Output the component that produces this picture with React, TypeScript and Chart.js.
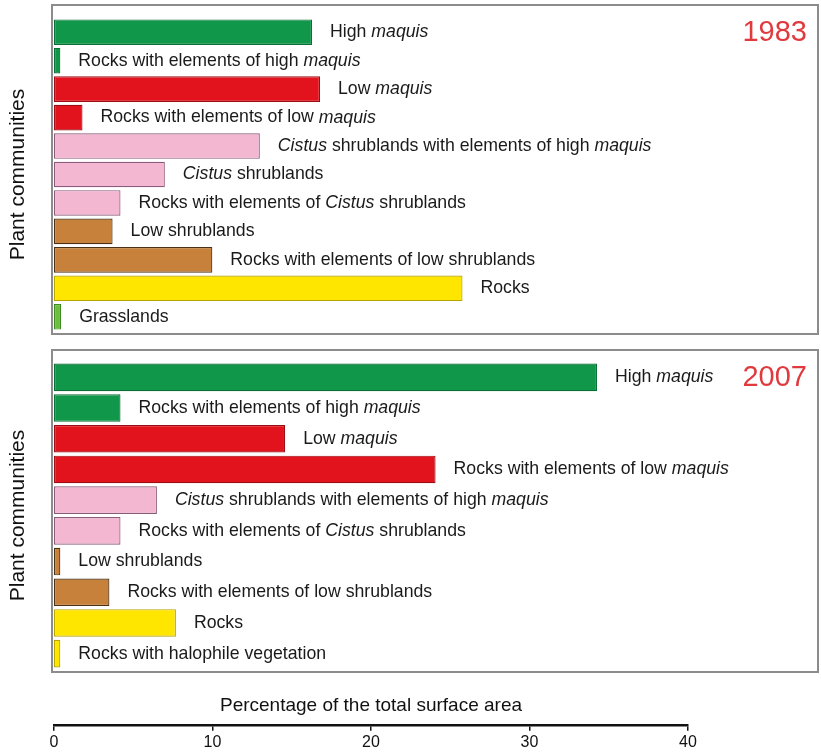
import React, { useEffect, useRef } from "react";
import { Chart, registerables } from "chart.js";
Chart.register(...registerables);

const FONT = '"Liberation Sans", Arial, sans-serif';

const categories1983 = [
  "High maquis",
  "Rocks with elements of high maquis",
  "Low maquis",
  "Rocks with elements of low maquis",
  "Cistus shrublands with elements of high maquis",
  "Cistus shrublands",
  "Rocks with elements of Cistus shrublands",
  "Low shrublands",
  "Rocks with elements of low shrublands",
  "Rocks",
  "Grasslands",
];
const values1983 = [16.3, 0.4, 16.8, 1.8, 13.0, 7.0, 4.2, 3.7, 10.0, 25.8, 0.45];
const groups1983 = ["high", "high", "low", "low", "cistus", "cistus", "cistus", "shrub", "shrub", "rocks", "grass"];

const categories2007 = [
  "High maquis",
  "Rocks with elements of high maquis",
  "Low maquis",
  "Rocks with elements of low maquis",
  "Cistus shrublands with elements of high maquis",
  "Rocks with elements of Cistus shrublands",
  "Low shrublands",
  "Rocks with elements of low shrublands",
  "Rocks",
  "Rocks with halophile vegetation",
];
const values2007 = [34.3, 4.2, 14.6, 24.1, 6.5, 4.2, 0.4, 3.5, 7.7, 0.4];
const groups2007 = ["high", "high", "low", "low", "cistus", "cistus", "shrub", "shrub", "rocks", "rocks"];

const axisTicks = [0, 10, 20, 30, 40];
const italicWords = ["maquis", "Cistus"];

const FILL: Record<string, string> = {
  high: "#11974a",
  low: "#e3131d",
  cistus: "#f3b7d2",
  shrub: "#c8813a",
  rocks: "#ffe600",
  grass: "#6cbd3c",
};
const EDGE: Record<string, string> = {
  high: "#0b6e34",
  low: "#9a0d14",
  cistus: "#8a5a7a",
  shrub: "#4a3015",
  rocks: "#b8a400",
  grass: "#3d8a20",
};

const labelPlugin = {
  id: "barLabels",
  afterDatasetsDraw(chart: any, _args: any, opts: any) {
    const ctx = chart.ctx;
    const meta = chart.getDatasetMeta(0);
    const labels = chart.data.labels as string[];
    ctx.save();
    ctx.fillStyle = "#1a1a1a";
    ctx.textBaseline = "middle";
    ctx.textAlign = "left";
    meta.data.forEach((bar: any, i: number) => {
      let x = bar.x + 18;
      const y = bar.y;
      const words = String(labels[i]).split(" ");
      words.forEach((w, k) => {
        const it = italicWords.includes(w);
        ctx.font = `${it ? "italic " : ""}17.7px ${FONT}`;
        const t = k < words.length - 1 ? w + " " : w;
        ctx.fillText(t, x, y);
        x += ctx.measureText(t).width;
      });
    });
    ctx.fillStyle = "#e03a3e";
    ctx.font = `29px ${FONT}`;
    ctx.textAlign = "right";
    ctx.fillText(opts.year, opts.yearX, opts.yearY);
    ctx.restore();
  },
};

function Panel(props: { labels: string[]; values: number[]; groups: string[]; year: string; yearY: number; style: React.CSSProperties; bar: number }) {
  const ref = useRef<HTMLCanvasElement>(null);
  useEffect(() => {
    const chart = new Chart(ref.current!, {
      type: "bar",
      data: {
        labels: props.labels,
        datasets: [
          {
            data: props.values,
            backgroundColor: props.groups.map((g) => FILL[g]),
            borderColor: props.groups.map((g) => EDGE[g]),
            borderWidth: 1.2,
            borderSkipped: false,
            barPercentage: props.bar,
            categoryPercentage: 1,
          },
        ],
      },
      options: {
        indexAxis: "y",
        animation: false,
        responsive: false,
        layout: { padding: 0 },
        plugins: {
          legend: { display: false },
          tooltip: { enabled: false },
          barLabels: { year: props.year, yearX: 807, yearY: props.yearY },
        } as any,
        scales: {
          x: { type: "linear", min: 0, max: 48, display: false },
          y: {
            type: "category",
            display: true,
            ticks: { display: false },
            grid: { display: false },
            border: { display: false },
            title: {
              display: true,
              text: "Plant communities",
              color: "#111",
              font: { size: 21, family: FONT },
              padding: { top: 6, bottom: 4 },
            },
            afterFit: (s: any) => {
              s.width = 54;
            },
          },
        },
      },
      plugins: [labelPlugin],
    });
    return () => chart.destroy();
  }, []);
  return <canvas ref={ref} style={{ position: "absolute", ...props.style }} width={props.style.width as number} height={props.style.height as number} />;
}

function Axis() {
  const ref = useRef<HTMLCanvasElement>(null);
  useEffect(() => {
    const chart = new Chart(ref.current!, {
      type: "scatter",
      data: { datasets: [] },
      options: {
        animation: false,
        responsive: false,
        layout: { padding: { left: 20, right: 20, top: 0, bottom: 0 } },
        plugins: {
          legend: { display: false },
          tooltip: { enabled: false },
          title: {
            display: true,
            text: "Percentage of the total surface area",
            color: "#111",
            font: { size: 19, family: FONT, weight: "normal" },
            padding: { top: 4, bottom: 8 },
          },
        },
        scales: {
          x: {
            type: "linear",
            min: 0,
            max: 40,
            afterBuildTicks: (s: any) => {
              s.ticks = axisTicks.map((v) => ({ value: v }));
            },
            grid: { display: true, drawOnChartArea: false, drawTicks: true, tickLength: 6, color: "#111", lineWidth: 1.5 },
            border: { display: true, color: "#111", width: 2.5 },
            ticks: { color: "#111", font: { size: 16, family: FONT }, padding: 2, maxRotation: 0 },
          },
          y: { display: false, min: 0, max: 1 },
        },
      },
    });
    return () => chart.destroy();
  }, []);
  return <canvas ref={ref} style={{ position: "absolute", left: 34, top: 690, width: 674, height: 62 }} width={674} height={62} />;
}

export default function App() {
  useEffect(() => {
    document.body.style.margin = "0";
  }, []);
  const box: React.CSSProperties = { position: "absolute", border: "2px solid #8c8c8c", boxSizing: "border-box" };
  return (
    <div style={{ position: "relative", width: 821, height: 752, background: "#fff", overflow: "hidden" }}>
      <div style={{ ...box, left: 51, top: 4, width: 768, height: 331 }} />
      <div style={{ ...box, left: 51, top: 349, width: 768, height: 324 }} />
      <Panel labels={categories1983} values={values1983} groups={groups1983} year="1983" yearY={15} bar={0.9} style={{ left: 0, top: 18, width: 814, height: 313 }} />
      <Panel labels={categories2007} values={values2007} groups={groups2007} year="2007" yearY={16} bar={0.9} style={{ left: 0, top: 362, width: 814, height: 307 }} />
      <Axis />
    </div>
  );
}
